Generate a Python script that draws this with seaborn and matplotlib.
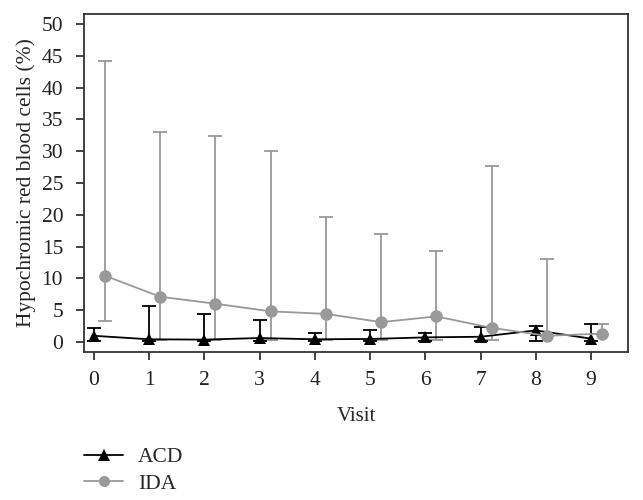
import numpy as np
import pandas as pd
import matplotlib
matplotlib.use("Agg")
import matplotlib.pyplot as plt
import seaborn as sns
from matplotlib.lines import Line2D

# ── Data ──────────────────────────────────────────────────────────────────────
visits = [0, 1, 2, 3, 4, 5, 6, 7, 8, 9]
acd_mean = [0.95, 0.4, 0.35, 0.6, 0.4, 0.45, 0.7, 0.8, 1.8, 0.5]
acd_low = [0.1, 0.1, 0.1, 0.1, 0.1, 0.1, 0.1, 0.1, 0.15, 0.1]
acd_high = [2.2, 5.7, 4.4, 3.5, 1.4, 1.8, 1.4, 2.4, 2.5, 2.8]
ida_mean = [10.4, 7.1, 6.0, 4.8, 4.4, 3.1, 4.0, 2.2, 0.95, 1.3]
ida_low = [3.3, 0.3, 0.3, 0.3, 0.3, 0.3, 0.3, 0.3, 0.9, 1.2]
ida_high = [44.2, 33.1, 32.4, 30.0, 19.6, 16.9, 14.3, 27.6, 13.0, 2.8]
ida_offset = 0.2

ACD_COL = "#000000"
IDA_COL = "#999999"

sns.set_theme(style="white")
plt.rcParams["font.family"] = ["Liberation Serif", "DejaVu Serif"]

df = pd.DataFrame({
    "visit": visits + [v + ida_offset for v in visits],
    "value": acd_mean + ida_mean,
    "group": ["ACD"] * len(visits) + ["IDA"] * len(visits),
})

fig = plt.figure(figsize=(6.43, 5.0), dpi=100)
ax = fig.add_axes([84 / 643, 1 - 352 / 500, (628 - 84) / 643, (352 - 14) / 500])

# error bars first, lines and markers on top
ida_x = np.array(visits) + ida_offset
ax.errorbar(ida_x, ida_mean,
            yerr=[np.array(ida_mean) - np.array(ida_low), np.array(ida_high) - np.array(ida_mean)],
            fmt="none", ecolor=IDA_COL, elinewidth=1.3, capsize=5, capthick=1.3, zorder=1)
ax.errorbar(visits, acd_mean,
            yerr=[np.array(acd_mean) - np.array(acd_low), np.array(acd_high) - np.array(acd_mean)],
            fmt="none", ecolor=ACD_COL, elinewidth=1.3, capsize=5, capthick=1.3, zorder=2)

sns.lineplot(data=df, x="visit", y="value", hue="group", style="group",
             palette={"ACD": ACD_COL, "IDA": IDA_COL},
             markers={"ACD": "^", "IDA": "o"}, dashes=False,
             markersize=9, markeredgewidth=0, linewidth=1.3,
             legend=False, ax=ax, zorder=3)

ax.set_xlim(-0.18, 9.67)
ax.set_ylim(-1.6, 51.6)
ax.set_xticks(visits)
ax.set_yticks(range(0, 51, 5))
ax.tick_params(axis="both", direction="out", length=6, width=1.2,
               colors="#222222", labelsize=15.5, left=True, bottom=True)
ax.tick_params(axis="y", pad=9)
ax.tick_params(axis="x", pad=8)
for s in ax.spines.values():
    s.set_color("#333333")
    s.set_linewidth(1.3)

ax.set_xlabel("Visit", fontsize=15, labelpad=12)
ax.set_ylabel("Hypochromic red blood cells (%)", fontsize=15.5, labelpad=4)

handles = [
    Line2D([], [], color=ACD_COL, marker="^", markersize=8, markeredgewidth=0, linewidth=1.3),
    Line2D([], [], color=IDA_COL, marker="o", markersize=8, markeredgewidth=0, linewidth=1.3),
]
fig.legend(handles, ["ACD", "IDA"], loc="upper left", bbox_to_anchor=(65 / 643, 1 - 428 / 500),
           frameon=False, fontsize=15.5, handlelength=1.8, handletextpad=0.7, labelspacing=0.3)

fig.savefig("out.png", dpi=100)
